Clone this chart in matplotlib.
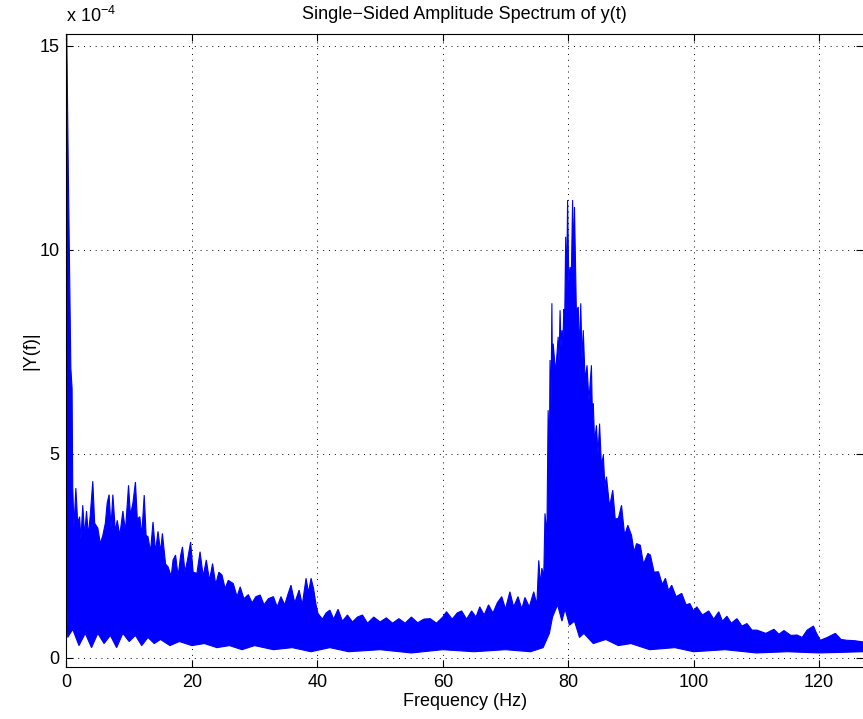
"""Single-sided amplitude spectrum of y(t), drawn as its read-off envelope."""

import numpy as np
import matplotlib.pyplot as plt

plt.rcParams["font.family"] = ["Liberation Sans", "DejaVu Sans"]
plt.rcParams["mathtext.fontset"] = "custom"
plt.rcParams["mathtext.rm"] = "Liberation Sans"

# upper envelope of |Y(f)| (peaks and dips), amplitude in units of 1e-4
upper_freq = [0.0, 0.05, 0.3, 0.55, 0.7, 0.9, 1.0, 1.2, 1.5, 1.8, 2.1, 2.3, 2.6, 2.9,
              3.2, 3.5, 3.8, 4.2, 4.5, 5.0, 5.4, 5.8, 6.2, 6.5, 6.8, 7.1, 7.4, 7.8,
              8.1, 8.5, 9.0, 9.4, 9.9, 10.2, 10.6, 11.0, 11.3, 11.7, 12.0, 12.4,
              12.7, 13.0, 13.4, 13.8, 14.2, 14.6, 15.0, 15.3, 15.8, 16.2, 16.7,
              17.0, 17.4, 17.8, 18.2, 18.5, 18.9, 19.3, 19.8, 20.2, 20.8, 21.3,
              21.8, 22.3, 22.8, 23.3, 23.8, 24.3, 24.8, 25.3, 25.8, 26.6, 27.2,
              27.7, 28.3, 29.0, 29.6, 30.2, 30.9, 31.5, 32.2, 33.0, 33.6, 34.2,
              34.8, 35.3, 35.8, 36.4, 37.1, 37.6, 38.2, 38.6, 39.0, 39.4, 39.8,
              40.1, 40.8, 41.4, 42.0, 42.6, 43.3, 44.0, 44.8, 45.6, 46.4, 47.2,
              48.0, 49.0, 50.0, 51.0, 52.0, 53.0, 54.0, 55.0, 56.0, 57.0, 58.0,
              59.0, 60.0, 60.6, 61.5, 62.3, 63.0, 63.8, 64.6, 65.3, 65.9, 66.6,
              67.3, 68.0, 68.7, 69.4, 70.0, 70.7, 71.3, 72.0, 72.6, 73.1, 73.8,
              74.5, 75.0, 75.3, 75.6, 75.8, 76.1, 76.3, 76.6, 76.8, 77.0, 77.1,
              77.25, 77.4, 77.5, 77.6, 78.0, 78.4, 78.55, 78.7, 78.85, 79.0,
              79.15, 79.3, 79.45, 79.6, 79.75, 79.9, 80.1, 80.3, 80.5, 80.7,
              80.85, 81.0, 81.3, 81.6, 81.8, 82.0, 82.2, 82.4, 82.7, 83.0, 83.3,
              83.7, 83.85, 84.0, 84.2, 84.5, 84.75, 85.0, 85.3, 85.6, 85.85,
              86.1, 86.6, 87.1, 87.5, 88.0, 88.5, 89.0, 89.5, 90.1, 90.5, 90.9,
              91.5, 92.0, 92.7, 93.1, 93.7, 94.4, 95.0, 95.5, 96.0, 96.5, 97.2,
              98.1, 98.8, 99.4, 100.0, 100.5, 101.4, 102.4, 103.2, 104.0, 104.6,
              105.3, 106.0, 106.9, 107.7, 108.5, 109.3, 110.1, 111.5, 112.8,
              113.6, 114.4, 115.5, 116.5, 117.3, 118.1, 119.1, 119.6, 120.2,
              121.3, 122.6, 123.5, 124.5, 125.7, 127.0]
upper_amp = [15.3, 15.3, 11.9, 8.9, 7.1, 6.6, 4.2, 3.2, 4.16, 3.3, 3.46, 2.9, 3.74, 3.0,
             3.6, 3.0, 3.5, 4.33, 3.3, 3.18, 2.8, 3.0, 3.3, 3.8, 4.0, 3.2, 4.0, 3.1,
             3.37, 3.0, 3.6, 3.1, 4.23, 3.5, 3.8, 4.31, 3.4, 3.46, 3.0, 3.99,
             3.0, 2.97, 2.6, 3.33, 2.6, 3.1, 2.6, 3.05, 2.3, 2.23, 2.0,
             2.4, 2.52, 2.0, 2.5, 2.72, 2.1, 2.4, 2.84, 2.1, 2.07, 2.6,
             2.0, 2.4, 1.9, 2.31, 1.8, 2.1, 2.03, 1.7, 1.9, 1.82, 1.5,
             1.74, 1.45, 1.55, 1.35, 1.5, 1.54, 1.3, 1.45, 1.5, 1.25, 1.5,
             1.3, 1.55, 1.78, 1.35, 1.66, 1.3, 1.95, 1.6, 1.95, 1.7, 1.3,
             1.09, 0.95, 1.1, 1.17, 0.95, 1.19, 0.9, 1.05, 0.88, 1.0, 1.05,
             0.85, 1.0, 0.88, 0.98, 0.85, 0.96, 0.85, 1.0, 0.86, 0.95, 0.96,
             0.85, 1.0, 1.13, 0.95, 1.1, 1.15, 0.95, 1.15, 1.0, 1.25, 1.05,
             1.3, 1.1, 1.35, 1.5, 1.2, 1.62, 1.25, 1.5, 1.2, 1.48, 1.25,
             1.62, 1.3, 2.39, 1.8, 2.2, 2.0, 3.54, 3.0, 6.07, 5.0, 7.3,
             6.0, 8.69, 6.5, 7.7, 7.0, 7.87, 7.2, 8.52, 7.6, 8.03,
             7.7, 8.55, 8.4, 10.32, 9.0, 11.22, 9.2, 9.58, 9.4, 11.22,
             9.8, 11.05, 8.5, 8.6, 7.5, 8.69, 7.3, 8.03, 6.8, 7.17, 6.3,
             7.17, 6.0, 6.24, 5.3, 5.7, 5.0, 5.74, 4.7, 4.97, 4.2,
             4.44, 3.7, 4.11, 3.4, 3.42, 3.74, 3.0, 3.25, 3.0, 2.6, 2.8,
             2.76, 2.3, 2.56, 2.52, 2.1, 2.11, 1.8, 1.95, 1.65, 1.78, 1.5,
             1.58, 1.3, 1.33, 1.15, 1.25, 1.05, 1.15, 0.95, 1.13, 0.9,
             1.02, 0.85, 0.96, 0.78, 0.84, 0.68, 0.68, 0.6, 0.7,
             0.58, 0.67, 0.55, 0.56, 0.5, 0.68, 0.78, 0.6, 0.43,
             0.5, 0.6, 0.45, 0.43, 0.42, 0.39]

# lower edge of the dense band
lower_freq = [0.0, 0.2, 1.0, 2.0, 3.0, 4.0, 5.0, 6.0, 7.0, 8.0, 9.0, 10.0, 11.0, 12.0,
              13.0, 14.0, 15.0, 16.5, 18.0, 20.0, 22.0, 24.0, 26.0, 28.0, 30.0,
              33.0, 36.0, 39.0, 42.0, 45.0, 50.0, 55.0, 60.0, 65.0, 70.0, 74.0,
              76.0, 77.0, 77.5, 78.3, 79.0, 79.5, 80.2, 81.0, 81.8, 82.5, 84.0,
              86.0, 88.0, 90.0, 93.0, 97.0, 100.0, 105.0, 110.0, 115.0, 120.0,
              127.0]
lower_amp = [1.8, 0.5, 0.7, 0.3, 0.6, 0.25, 0.6, 0.35, 0.55, 0.25, 0.6, 0.4, 0.55, 0.3,
             0.5, 0.35, 0.45, 0.3, 0.4, 0.3, 0.35, 0.25, 0.3, 0.2, 0.3,
             0.2, 0.25, 0.15, 0.25, 0.15, 0.2, 0.12, 0.2, 0.15, 0.2, 0.15,
             0.25, 0.6, 1.0, 1.3, 0.9, 1.2, 0.8, 0.9, 0.5, 0.6, 0.35,
             0.45, 0.3, 0.35, 0.2, 0.25, 0.15, 0.2, 0.12, 0.15, 0.12,
             0.15]

xticks = [0, 20, 40, 60, 80, 100, 120]
yticks = [0, 5, 10, 15]

fig = plt.figure(figsize=(8.63, 7.19), dpi=100)
ax = fig.add_axes([0.077, 0.072, 0.923, 0.8807])
ax.set_axisbelow(True)

poly_x = np.concatenate([upper_freq, lower_freq[::-1]])
poly_y = np.concatenate([upper_amp, lower_amp[::-1]])
ax.fill(poly_x, poly_y, color="#0000ff", lw=0.8, zorder=2)

ax.set_xlim(0, 127)
ax.set_ylim(-0.23, 15.29)
ax.set_xticks(xticks)
ax.set_yticks(yticks)
ax.tick_params(direction="in", length=5, labelsize=13, top=True, right=True, pad=5)
ax.grid(True, color="black", linestyle=(0, (1, 5)), linewidth=0.7)
ax.spines["right"].set_visible(False)

ax.set_title("Single\u2212Sided Amplitude Spectrum of y(t)", fontsize=13, pad=11)
ax.set_xlabel("Frequency (Hz)", fontsize=13, labelpad=1)
ax.set_ylabel("|Y(f)|", fontsize=13, labelpad=0)
ax.text(0.0, 1.012, r"x 10$^{\mathregular{-4}}$", transform=ax.transAxes,
        fontsize=13, ha="left", va="bottom")

fig.savefig("out.png", dpi=100)
